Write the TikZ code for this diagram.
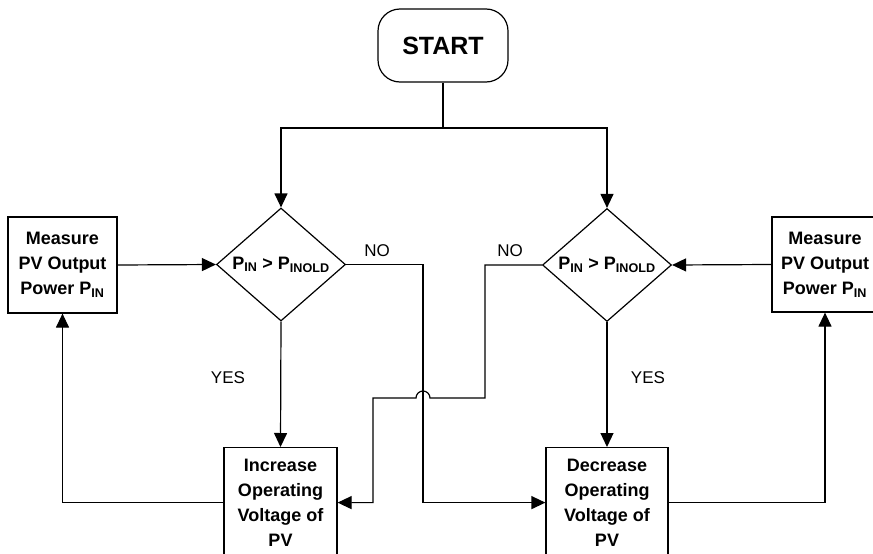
\documentclass[tikz,border=0pt]{standalone}
\usepackage{fontspec}
\setmainfont{Liberation Sans}
\usetikzlibrary{arrows.meta, shapes.geometric, shapes.misc}

\begin{document}
\begin{tikzpicture}[
    x=1pt, y=-1pt,
    every node/.style={font=\fontsize{18}{25}\selectfont\bfseries},
    flowline/.style={line width=1.2pt, -{Triangle[length=14pt, width=13pt]}},
    plainline/.style={line width=1.2pt},
    termbox/.style={rectangle, rounded corners=22pt, draw, line width=1.2pt, minimum width=130pt, minimum height=73pt, font=\fontsize{25}{30}\selectfont\bfseries},
    decision/.style={diamond, draw, line width=1.2pt, aspect=1.15, inner sep=0pt, minimum width=129pt, minimum height=113pt},
    procbox/.style={rectangle, draw, line width=1.2pt, align=center, inner sep=0pt},
    answer/.style={font=\fontsize{17}{20}\selectfont},
]
\clip (0,0) rectangle (873,554);
% start and split point
\node[termbox] (start) at (443,45.5) {START};
\coordinate (split) at (443,128);
% decisions
\node[decision] (dl) at (281,264.5) {P\textsubscript{IN} > P\textsubscript{INOLD}};
\node[decision] (dr) at (607,265) {P\textsubscript{IN} > P\textsubscript{INOLD}};
% measure boxes (right one runs off the page)
\node[procbox, minimum width=109pt, minimum height=96pt] (ml) at (62.5,265) {Measure\\PV Output\\Power P\textsubscript{IN}};
\node[procbox, minimum width=106pt, minimum height=95pt] (mr) at (825,264.5) {Measure\\PV Output\\Power P\textsubscript{IN}};
% voltage boxes (bottom cut by the page)
\node[procbox, anchor=north, minimum width=113pt, minimum height=110pt] (inc) at (280.5,447) {Increase\\Operating\\Voltage of\\PV};
\node[procbox, anchor=north, minimum width=122pt, minimum height=110pt] (dec) at (607,447) {Decrease\\Operating\\Voltage of\\PV};
% connectors
\draw[plainline] (start.south) -- (split);
\draw[flowline] (split) -| (dl.north);
\draw[flowline] (split) -| (dr.north);
\draw[flowline] (ml.east) -- (dl.west);
\draw[flowline] (mr.west) -- (dr.east);
\draw[flowline] (dl.south) -- (inc.north);
\draw[flowline] (dr.south) -- (dec.north);
% NO branches, crossing with a hop
\coordinate (jmp) at (423,398);
\coordinate (nor) at (485,398);
\coordinate (nol) at (373,398);
\draw[flowline] (dl.east) -| (jmp) |- (dec.west);
\draw[flowline] (dr.west) -| (nor) -- ([xshift=7pt]jmp) arc[start angle=0, end angle=180, radius=7pt] -- (nol) |- (inc.east);
% back to measuring
\draw[flowline] (inc.west) -| (ml.south);
\draw[flowline] (dec.east) -| (mr.south);
% answers
\node[answer] (noleft) at (377,251) {NO};
\node[answer] (noright) at (510,251) {NO};
\node[answer] (yesleft) at (228,378) {YES};
\node[answer] (yesright) at (648,378) {YES};
\end{tikzpicture}
\end{document}
